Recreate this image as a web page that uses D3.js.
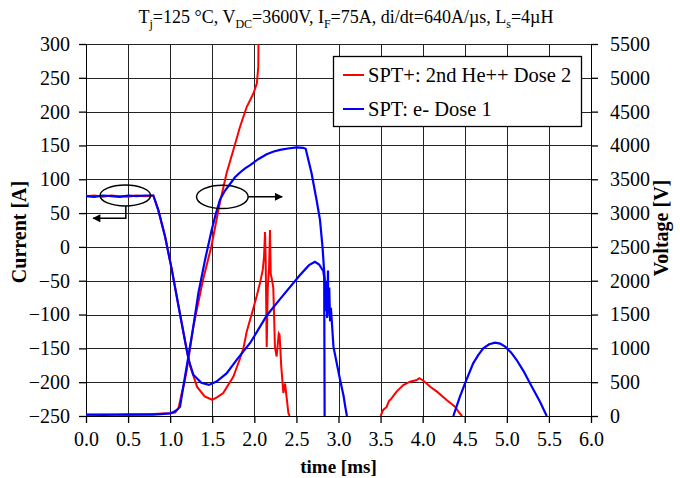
<!DOCTYPE html>
<html>
<head>
<meta charset="utf-8">
<script src="https://cdn.jsdelivr.net/npm/d3@7"></script>
<style>
  body { margin: 0; background: #fff; }
  text { font-family: "Liberation Serif", "Times New Roman", serif; fill: #000; }
</style>
</head>
<body>
<div id="chart"></div>
<script>
// tick values
var timeTicks = [0, 0.5, 1, 1.5, 2, 2.5, 3, 3.5, 4, 4.5, 5, 5.5, 6];
var currentTicks = [-250, -200, -150, -100, -50, 0, 50, 100, 150, 200, 250, 300];
var voltageTicks = [0, 500, 1000, 1500, 2000, 2500, 3000, 3500, 4000, 4500, 5000, 5500];

var seriesNames = ["SPT+: 2nd He++ Dose 2", "SPT: e- Dose 1"];

// current traces [time ms, A]
var redCurrent = [[0,75],[0.1,76],[0.2,74],[0.3,76],[0.4,75],[0.5,74],[0.6,76],[0.7,75],[0.8,76],
  [0.86,54],[0.94,15],[1.02,-34],[1.10,-88],[1.16,-128],[1.20,-155],[1.24,-177],[1.32,-207],
  [1.41,-221],[1.50,-226],[1.56,-222],[1.63,-216],[1.75,-192],[1.83,-165],[1.87,-150],[1.91,-125],
  [1.99,-90],[2.03,-72],[2.07,-52],[2.10,-34],[2.115,-15],[2.127,22],[2.135,-20],[2.147,-148],
  [2.16,-60],[2.175,-30],[2.186,25],[2.195,-40],[2.21,-49],[2.225,-60],[2.245,-148],[2.265,-162],
  [2.29,-128],[2.30,-130],[2.32,-177],[2.345,-216],[2.365,-202],[2.405,-246],[2.42,-250]];

var blueCurrent = [[0,75],[0.1,74],[0.2,76],[0.3,75],[0.4,74],[0.5,76],[0.6,75],[0.7,76],[0.8,76],
  [0.86,54],[0.94,15],[1.02,-34],[1.10,-88],[1.16,-128],[1.22,-167],[1.275,-189],[1.37,-201],
  [1.46,-204],[1.55,-199],[1.67,-187],[1.79,-167],[1.95,-142],[2.15,-101],[2.30,-78],[2.54,-42],
  [2.65,-27],[2.72,-22],[2.77,-26],[2.82,-36],[2.83,-45],[2.835,-250]];

// voltage traces [time ms, V], null = gap
var redVoltage = [[0,20],[0.2,25],[0.5,20],[0.8,30],[1.0,40],[1.06,50],[1.1,120],[1.14,350],
  [1.17,500],[1.2,700],[1.275,1320],[1.39,2010],[1.49,2510],[1.59,3150],[1.67,3590],[1.75,3930],
  [1.83,4277],[1.91,4572],[1.99,4771],[2.03,4918],[2.047,5164],[2.05,5600],
  null,
  [3.50,0],[3.53,89],[3.57,130],[3.60,220],[3.63,261],[3.69,360],[3.77,458],[3.85,507],[3.93,532],
  [3.96,560],[4.01,522],[4.09,433],[4.17,360],[4.285,237],[4.384,138],[4.44,40],[4.47,0]];

var blueVoltage = [[0,20],[0.2,15],[0.5,25],[0.8,20],[1.0,40],[1.04,60],[1.08,90],[1.117,138],
  [1.156,433],[1.216,877],[1.275,1320],[1.335,1814],[1.414,2306],[1.493,2750],[1.54,2980],
  [1.592,3200],[1.65,3330],[1.711,3430],[1.77,3530],[1.83,3600],[1.89,3660],[1.95,3710],
  [2.05,3800],[2.147,3870],[2.23,3910],[2.305,3935],[2.40,3955],[2.50,3972],[2.58,3965],
  [2.61,3950],[2.68,3590],[2.74,3190],[2.78,2900],[2.81,2500],[2.84,1950],[2.85,1550],[2.86,2000],
  [2.865,1450],[2.875,2150],[2.88,1500],[2.89,1900],[2.90,1400],[2.91,1600],[2.94,1025],[3.0,650],
  [3.02,530],[3.06,300],[3.08,140],[3.10,0],
  null,
  [4.364,0],[4.443,286],[4.503,483],[4.6,779],[4.66,900],[4.72,1000],[4.79,1060],[4.86,1084],
  [4.92,1070],[4.98,1025],[5.05,940],[5.117,828],[5.2,660],[5.275,483],[5.394,212],[5.474,0]];

// setup
var svgWidth = 680;
var svgHeight = 478;
var margin = { top: 44, right: 89, bottom: 62, left: 86 };
var width = svgWidth - margin.left - margin.right;
var height = svgHeight - margin.top - margin.bottom;

var svg = d3.select("#chart")
  .append("svg")
  .attr("width", svgWidth)
  .attr("height", svgHeight);

var chart = svg.append("g")
  .attr("transform", `translate(${margin.left}, ${margin.top})`);

// scales
var xScale = d3.scaleLinear().domain([0, 6]).range([0, width]);
var yCurrent = d3.scaleLinear().domain([-250, 300]).range([height, 0]);
var yVoltage = d3.scaleLinear().domain([0, 5500]).range([height, 0]);

// grid
chart.append("g").selectAll("line")
  .data(timeTicks.slice(1, -1))
  .enter().append("line")
  .attr("x1", d => Math.round(xScale(d)) + 0.5)
  .attr("x2", d => Math.round(xScale(d)) + 0.5)
  .attr("y1", 0).attr("y2", height)
  .attr("stroke", "#222").attr("stroke-width", 1);

chart.append("g").selectAll("line")
  .data(currentTicks.slice(1))
  .enter().append("line")
  .attr("x1", 0).attr("x2", width)
  .attr("y1", d => Math.round(yCurrent(d)) + 0.5)
  .attr("y2", d => Math.round(yCurrent(d)) + 0.5)
  .attr("stroke", "#222").attr("stroke-width", 1);

// axes
var xAxis = d3.axisBottom(xScale).tickValues(timeTicks).tickFormat(d3.format(".1f")).tickSize(7).tickPadding(9);
var yAxisLeft = d3.axisLeft(yCurrent).tickValues(currentTicks).tickFormat(d3.format("d")).tickSize(7).tickPadding(9);
var yAxisRight = d3.axisRight(yVoltage).tickValues(voltageTicks).tickFormat(d3.format("d")).tickSize(7).tickPadding(12);

[[xAxis, `translate(0, ${height})`], [yAxisLeft, null], [yAxisRight, `translate(${width}, 0)`]]
  .forEach(function(a) {
    var g = chart.append("g").call(a[0])
      .attr("font-family", "'Liberation Serif', 'Times New Roman', serif")
      .attr("font-size", 20);
    if (a[1]) g.attr("transform", a[1]);
    g.selectAll("path, line").attr("stroke", "#000").attr("stroke-width", 1.3);
    g.selectAll("text").attr("fill", "#000");
  });
chart.selectAll(".domain").attr("shape-rendering", "crispEdges");

// lines
chart.append("clipPath").attr("id", "plotclip")
  .append("rect").attr("width", width).attr("height", height + 1);

var lineCurrent = d3.line()
  .defined(d => d !== null)
  .x(d => xScale(d[0])).y(d => yCurrent(d[1]));
var lineVoltage = d3.line()
  .defined(d => d !== null)
  .x(d => xScale(d[0])).y(d => yVoltage(d[1]));

var plot = chart.append("g").attr("clip-path", "url(#plotclip)");
plot.append("path").datum(redCurrent).attr("d", lineCurrent)
  .attr("fill", "none").attr("stroke", "#ff0000").attr("stroke-width", 2);
plot.append("path").datum(redVoltage).attr("d", lineVoltage)
  .attr("fill", "none").attr("stroke", "#ff0000").attr("stroke-width", 2);
plot.append("path").datum(blueCurrent).attr("d", lineCurrent)
  .attr("fill", "none").attr("stroke", "#0000ff").attr("stroke-width", 2.2);
plot.append("path").datum(blueVoltage).attr("d", lineVoltage)
  .attr("fill", "none").attr("stroke", "#0000ff").attr("stroke-width", 2.2);

// annotations: ellipses with arrows (data units)
svg.append("defs").append("marker").attr("id", "arrow")
  .attr("viewBox", "0 0 10 10").attr("refX", 9).attr("refY", 5)
  .attr("markerWidth", 11).attr("markerHeight", 8).attr("markerUnits", "userSpaceOnUse")
  .attr("orient", "auto")
  .append("path").attr("d", "M0,0 L10,5 L0,10 z").attr("fill", "#000");

var ellipses = [{ t: 0.467, i: 76, rt: 0.30, ri: 15.5 }, { t: 1.62, i: 74, rt: 0.307, ri: 17.3 }];
chart.selectAll("ellipse.ann").data(ellipses).enter().append("ellipse")
  .attr("cx", d => xScale(d.t)).attr("cy", d => yCurrent(d.i))
  .attr("rx", d => xScale(d.rt) - xScale(0)).attr("ry", d => yCurrent(0) - yCurrent(d.ri))
  .attr("fill", "none").attr("stroke", "#000").attr("stroke-width", 1.5);

var arrowLeft = [[0.473, 60.5], [0.473, 42.3], [0.085, 42.3]];
var arrowRight = [[1.927, 74], [2.33, 74]];
[arrowLeft, arrowRight].forEach(function(pts) {
  chart.append("path").datum(pts).attr("d", lineCurrent)
    .attr("fill", "none").attr("stroke", "#000").attr("stroke-width", 1.5)
    .attr("marker-end", "url(#arrow)");
});

// legend
var legend = svg.append("g").attr("transform", "translate(333, 56)");
legend.append("rect").attr("x", 0.5).attr("y", 0.5).attr("width", 248).attr("height", 70)
  .attr("fill", "#fff").attr("stroke", "#000").attr("stroke-width", 1.3);
var legendColors = ["#ff0000", "#0000ff"];
seriesNames.forEach(function(name, k) {
  var yy = 19 + k * 34;
  legend.append("line").attr("x1", 10).attr("x2", 31).attr("y1", yy).attr("y2", yy)
    .attr("stroke", legendColors[k]).attr("stroke-width", 2);
  legend.append("text").attr("x", 35).attr("y", yy + 7).attr("font-size", "20.5px").text(name);
});

// title
var title = svg.append("text").attr("x", 346).attr("y", 23)
  .attr("text-anchor", "middle").attr("font-size", "18px");
var titleParts = [["T", 0], ["j", 1], ["=125 °C, V", 0], ["DC", 1], ["=3600V, I", 0], ["F", 1],
  ["=75A, di/dt=640A/µs, L", 0], ["s", 1], ["=4µH", 0]];
titleParts.forEach(function(p, k) {
  var ts = title.append("tspan").text(p[0]);
  if (p[1]) ts.attr("font-size", "12px").attr("dy", 5);
  else if (k > 0 && titleParts[k - 1][1]) ts.attr("dy", -5);
});

// axis titles
svg.append("text")
  .attr("transform", `translate(26, ${margin.top + height / 2 + 2}) rotate(-90)`)
  .attr("text-anchor", "middle").attr("font-size", "20px").attr("font-weight", "bold")
  .text("Current [A]");
svg.append("text")
  .attr("transform", `translate(668, ${margin.top + height / 2 - 2}) rotate(-90)`)
  .attr("text-anchor", "middle").attr("font-size", "20px").attr("font-weight", "bold")
  .text("Voltage [V]");
svg.append("text")
  .attr("x", margin.left + width / 2).attr("y", 473)
  .attr("text-anchor", "middle").attr("font-size", "19px").attr("font-weight", "bold")
  .text("time [ms]");
</script>
</body>
</html>
